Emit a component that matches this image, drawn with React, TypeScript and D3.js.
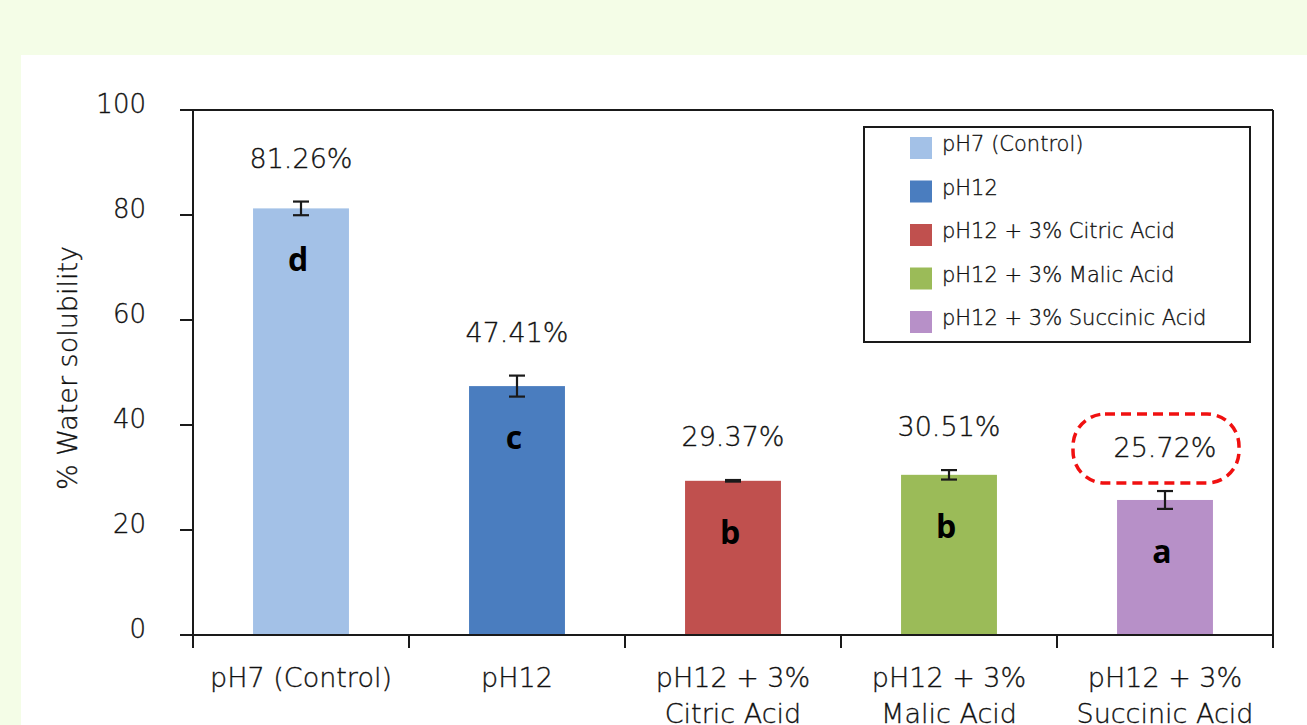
import React from "react";
import * as d3 from "d3";

const categories = ["pH7 (Control)", "pH12", "pH12 + 3% Citric Acid", "pH12 + 3% Malic Acid", "pH12 + 3% Succinic Acid"];
const xLabelLines = [["pH7 (Control)"], ["pH12"], ["pH12 + 3%", "Citric Acid"], ["pH12 + 3%", "Malic Acid"], ["pH12 + 3%", "Succinic Acid"]];
const values = [81.26, 47.41, 29.37, 30.51, 25.72];
const errors = [1.3, 2.0, 0.15, 0.9, 1.7];
const valueLabels = ["81.26%", "47.41%", "29.37%", "30.51%", "25.72%"];
const groupLetters = ["d", "c", "b", "b", "a"];
const colors = ["#a3c1e7", "#4a7dbf", "#c0504e", "#9bbb58", "#b790c8"];
const yTicks = [0, 20, 40, 60, 80, 100];
const highlightIndex = 4;

const W = 1307;
const H = 725;
const FONT = "'DejaVu Sans', sans-serif";

export default function App() {
  const left = 193, right = 1273, top = 110, bottom = 635;
  const x = d3.scaleBand<string>().domain(categories).range([left, right]).padding(0);
  const y = d3.scaleLinear().domain([0, 100]).range([bottom, top]);
  const barW = x.bandwidth() * 0.444;
  const ink = "#1a1a1a";
  const txt = "#111111";
  const thick = { stroke: "#111111", strokeWidth: 0.35 };

  const hx = (x(categories[highlightIndex]) as number) + x.bandwidth() / 2 - 9;
  const hy = y(values[highlightIndex] + errors[highlightIndex]) - 42;

  return (
    <svg width={W} height={H} style={{ position: "fixed", left: 0, top: 0 }}>
      <rect x={0} y={0} width={W} height={H} fill="#f4fde7" />
      <rect x={21} y={55} width={W - 21} height={H - 55} fill="#ffffff" />

      {/* bars */}
      {categories.map((c, i) => {
        const cx = (x(c) as number) + x.bandwidth() / 2;
        return (
          <g key={c}>
            <rect x={cx - barW / 2} y={y(values[i])} width={barW} height={bottom - y(values[i])} fill={colors[i]} />
            <line x1={cx} x2={cx} y1={y(values[i] - errors[i])} y2={y(values[i] + errors[i])} stroke={ink} strokeWidth={2.2} />
            <line x1={cx - 8} x2={cx + 8} y1={y(values[i] - errors[i])} y2={y(values[i] - errors[i])} stroke={ink} strokeWidth={2.2} />
            <line x1={cx - 8} x2={cx + 8} y1={y(values[i] + errors[i])} y2={y(values[i] + errors[i])} stroke={ink} strokeWidth={2.2} />
            <text x={cx} y={y(values[i] + errors[i]) - 34} textAnchor="middle" fontFamily={FONT} fontWeight={300} fontSize={27} fill={txt} {...thick}>
              {valueLabels[i]}
            </text>
            <text x={cx - 3} y={y(values[i]) + 63} textAnchor="middle" fontFamily="'Open Sans', sans-serif" fontWeight={700} fontSize={32} fill="#000">
              {groupLetters[i]}
            </text>
          </g>
        );
      })}

      {/* frame */}
      <line x1={left - 13} x2={right} y1={top} y2={top} stroke={ink} strokeWidth={2} />
      <line x1={right} x2={right} y1={top} y2={bottom + 13} stroke={ink} strokeWidth={2} />
      <line x1={left} x2={left} y1={top} y2={bottom + 13} stroke={ink} strokeWidth={2} />
      <line x1={left} x2={right} y1={bottom} y2={bottom} stroke={ink} strokeWidth={2} />

      {/* y ticks */}
      {yTicks.map((t) => (
        <g key={t}>
          <line x1={left - 13} x2={left} y1={y(t)} y2={y(t)} stroke={ink} strokeWidth={2} />
          <text x={146} y={y(t) + 3} textAnchor="end" fontFamily={FONT} fontWeight={300} fontSize={26} fill={txt} {...thick}>
            {t}
          </text>
        </g>
      ))}

      {/* x ticks */}
      {categories.map((c) => (
        <line key={c} x1={x(c) as number} x2={x(c) as number} y1={bottom} y2={bottom + 13} stroke={ink} strokeWidth={2} />
      ))}
      {categories.map((c, i) => {
        const cx = (x(c) as number) + x.bandwidth() / 2;
        return (
          <text key={c} textAnchor="middle" fontFamily={FONT} fontWeight={300} fontSize={27} fill={txt} {...thick}>
            {xLabelLines[i].map((l, j) => (
              <tspan key={j} x={cx} y={687 + j * 36}>
                {l}
              </tspan>
            ))}
          </text>
        );
      })}

      {/* y label */}
      <text transform={`translate(77,368) rotate(-90)`} textAnchor="middle" fontFamily={FONT} fontWeight={300} fontSize={27} fill={txt} {...thick}>
        % Water solubility
      </text>

      {/* legend */}
      <rect x={864} y={127} width={386} height={215} fill="#fff" stroke={ink} strokeWidth={2} />
      {categories.map((c, i) => (
        <g key={c}>
          <rect x={910} y={137 + i * 43.5} width={22} height={22} fill={colors[i]} />
          <text x={942} y={148 + i * 43.5 + 3} fontFamily={FONT} fontWeight={300} fontSize={21} fill={txt} {...thick}>
            {c}
          </text>
        </g>
      ))}

      {/* highlight */}
      <rect x={hx - 83} y={hy - 35} width={166} height={69} rx={32} ry={32} fill="none" stroke="#f01010" strokeWidth={3.5} strokeDasharray="10 6" />
    </svg>
  );
}
